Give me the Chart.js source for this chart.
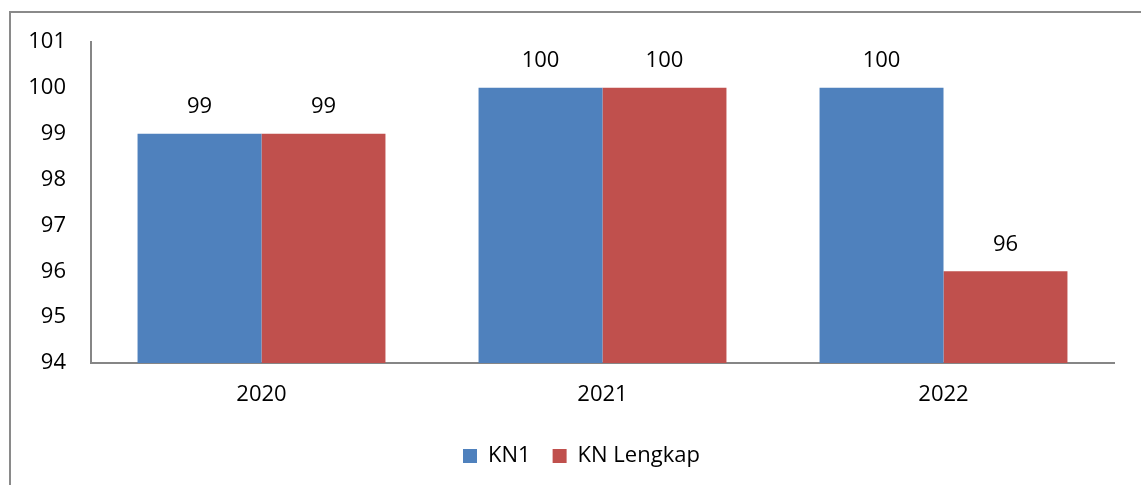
<!DOCTYPE html>
<html lang="id">
<head>
<meta charset="UTF-8">
<title>KN1 dan KN Lengkap</title>
<script src="https://cdn.jsdelivr.net/npm/chart.js"></script>
<style>
    html, body { margin: 0; padding: 0; background: #fff; overflow: hidden; }
    #frame {
        position: absolute; left: 9px; top: 11px; width: 1200px; height: 600px;
        border-left: 2px solid #8a8a8a; border-top: 2px solid #8a8a8a;
    }
    #wrap { position: absolute; left: 0; top: 0; width: 1141px; height: 485px; }
</style>
</head>
<body>
<div id="frame"></div>
<div id="wrap"><canvas id="chart"></canvas></div>
<script>
    // data
    const years = ['2020', '2021', '2022'];
    const kn1 = [99, 100, 100];
    const knLengkap = [99, 100, 96];
    const yTicks = [94, 95, 96, 97, 98, 99, 100, 101];

    const fontFamily = '"Open Sans", "Liberation Sans", sans-serif';
    const fontSize = 22;

    // draws the value above every bar
    const barValues = {
        id: 'barValues',
        afterDatasetsDraw(chart) {
            const ctx = chart.ctx;
            ctx.save();
            ctx.font = fontSize + 'px ' + fontFamily;
            ctx.fillStyle = '#000';
            ctx.textAlign = 'center';
            ctx.textBaseline = 'middle';
            chart.data.datasets.forEach((ds, i) => {
                chart.getDatasetMeta(i).data.forEach((bar, j) => {
                    ctx.fillText(ds.data[j], bar.x, bar.y - 27);
                });
            });
            ctx.restore();
        }
    };

    // legend in the original sits a bit right of the centre
    const legendShift = {
        id: 'legendShift',
        afterUpdate(chart) {
            const lg = chart.legend;
            if (!lg || !lg.legendHitBoxes.length) return;
            const dx = 463 - lg.legendHitBoxes[0].left;
            lg.left += dx;
            lg.right += dx;
        }
    };

    new Chart(document.getElementById('chart'), {
        type: 'bar',
        data: {
            labels: years,
            datasets: [
                { label: 'KN1', data: kn1, backgroundColor: '#4F81BD' },
                { label: 'KN Lengkap', data: knLengkap, backgroundColor: '#C0504D' }
            ]
        },
        options: {
            responsive: true,
            maintainAspectRatio: false,
            animation: false,
            categoryPercentage: 0.727,
            barPercentage: 1.0,
            layout: { padding: { left: 0, top: 42, right: 27, bottom: 8 } },
            scales: {
                y: {
                    min: 94,
                    max: 101,
                    afterFit(scale) { scale.width = 91; },
                    afterBuildTicks(scale) { scale.ticks = yTicks.map(v => ({ value: v })); },
                    grid: { display: false, drawTicks: false },
                    border: { display: true, color: '#868686', width: 2 },
                    ticks: { padding: 25, color: '#000', font: { family: fontFamily, size: fontSize } }
                },
                x: {
                    afterFit(scale) { scale.height = 60; },
                    grid: { display: false, drawTicks: false },
                    border: { display: true, color: '#868686', width: 2 },
                    ticks: { padding: 19, color: '#000', font: { family: fontFamily, size: fontSize } }
                }
            },
            plugins: {
                legend: {
                    position: 'bottom',
                    labels: {
                        boxWidth: 14,
                        boxHeight: 14,
                        padding: 22,
                        color: '#000',
                        font: { family: fontFamily, size: 22 }
                    }
                },
                tooltip: { enabled: false }
            }
        },
        plugins: [barValues, legendShift]
    });
</script>
</body>
</html>
